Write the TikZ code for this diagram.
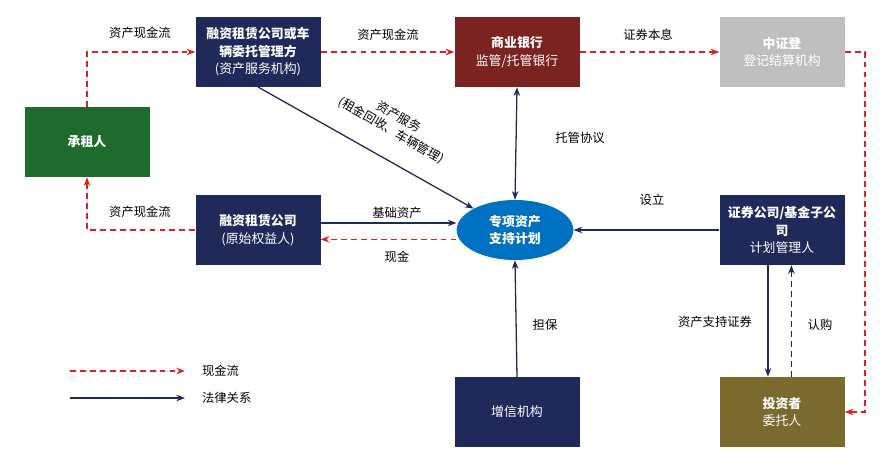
\documentclass[tikz,border=0pt]{standalone}
\usepackage{fontspec}
\setmainfont{Noto Sans CJK SC}
\usetikzlibrary{arrows.meta,shapes.geometric}
\definecolor{navy}{HTML}{1F2A5A}
\definecolor{dgreen}{HTML}{1E6B2E}
\definecolor{dred}{HTML}{7B2321}
\definecolor{lgray}{HTML}{BFBFBF}
\definecolor{eblue}{HTML}{0070C0}
\definecolor{olive}{HTML}{7B6A2E}
\definecolor{cred}{HTML}{E02020}
\tikzset{
 box/.style={minimum width=37.5mm,minimum height=21mm,text=white,align=center,font=\fontsize{11}{15}\selectfont,inner sep=1pt},
 cash/.style={cred,dash pattern=on 5pt off 3.5pt,line width=1.2pt,-{Stealth[length=2.6mm]}},
 law/.style={navy,line width=1.1pt,-{Stealth[length=2.6mm]}},
 lbl/.style={font=\fontsize{10.5}{13}\selectfont,text=black}
}
\begin{document}
\begin{tikzpicture}[x=0.3mm,y=-0.3mm]
\useasboundingbox (0,0) rectangle (887,463);
\node[box,fill=dgreen] (zu) at (87,142) {\textbf{承租人}};
\node[box,fill=navy] (fw) at (258,52) {\textbf{融资租赁公司或车}\\\textbf{辆委托管理方}\\(资产服务机构)};
\node[box,fill=dred] (yh) at (517,52) {\textbf{商业银行}\\监管/托管银行};
\node[box,fill=lgray] (zz) at (782,52) {\textbf{中证登}\\登记结算机构};
\node[box,fill=navy] (yq) at (258,230) {\textbf{融资租赁公司}\\(原始权益人)};
\node[ellipse,fill=eblue,minimum width=35mm,minimum height=18mm,text=white,align=center,font=\fontsize{11}{15}\selectfont,inner sep=0pt] (jh) at (515,230) {\textbf{专项资产}\\\textbf{支持计划}};
\node[box,fill=navy] (zq) at (782,230) {\textbf{证券公司/基金子公}\\\textbf{司}\\计划管理人};
\node[box,fill=navy] (zx) at (517,412) {增信机构};
\node[box,fill=olive] (tz) at (782,412) {\textbf{投资者}\\委托人};
% cash flows
\draw[cash] (zu.north) |- (fw.west);
\node[lbl] at (140,33) {资产现金流};
\draw[cash] (fw.east) -- (yh.west);
\node[lbl] at (388,35) {资产现金流};
\draw[cash] (yh.east) -- (zz.west);
\node[lbl] at (648,35) {证券本息};
\coordinate (c1) at (865,52);
\coordinate (c2) at (865,412);
\draw[cash] (zz.east) -- (c1) -- (c2) -- (tz.east);
\draw[cash] (yq.west) -| (zu.south);
\node[lbl] at (140,212) {资产现金流};
\draw[law] ([yshift=6pt]yq.east) -- ([yshift=6pt]jh.west);
\node[lbl] at (397,213) {基础资产};
\draw[cash] ([yshift=-8pt]jh.west) -- ([yshift=-8pt]yq.east);
\node[lbl] at (397,257) {现金};
% legal
\draw[law] (258,87) -- (jh.north west);
\node[lbl,rotate=-30,align=center] at (395,124) {资产服务\\(租金回收、车辆管理)};
\draw[navy,line width=1.1pt,{Stealth[length=2.6mm]}-{Stealth[length=2.6mm]}] (yh.south) -- (jh.north);
\node[lbl] at (580,138) {托管协议};
\draw[law] (zq.west) -- (jh.east);
\node[lbl] at (652,200) {设立};
\draw[law] (zx.north) -- (jh.south);
\node[lbl] at (545,325) {担保};
\draw[law] ([xshift=-12]zq.south) -- ([xshift=-12]tz.north);
\node[lbl] at (715,322) {资产支持证券};
\draw[law,dash pattern=on 5pt off 3.5pt] ([xshift=8]tz.north) -- ([xshift=8]zq.south);
\node[lbl] at (820,325) {认购};
% legend
\coordinate (l1) at (70,371); \coordinate (l2) at (185,371);
\coordinate (l3) at (70,398); \coordinate (l4) at (185,398);
\draw[cash] (l1) -- (l2);
\draw[law] (l3) -- (l4);
\node[lbl,anchor=west] at (198,371) {现金流};
\node[lbl,anchor=west] at (198,398) {法律关系};
\end{tikzpicture}
\end{document}
